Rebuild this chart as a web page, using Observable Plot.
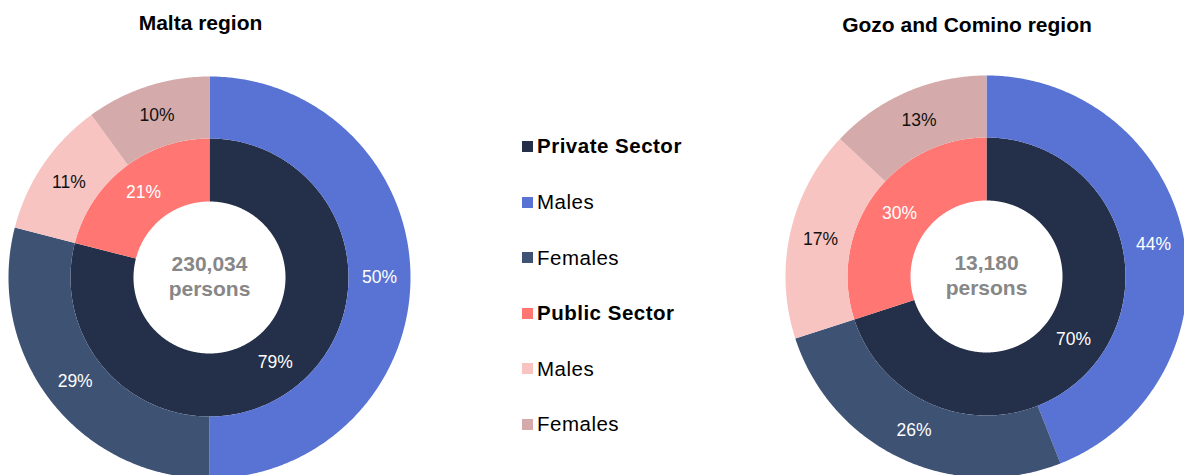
<!DOCTYPE html>
<html>
<head>
<meta charset="utf-8">
<script src="https://cdn.jsdelivr.net/npm/d3@7"></script>
<script src="https://cdn.jsdelivr.net/npm/@observablehq/plot@0.6"></script>
<style>
  html, body { margin: 0; padding: 0; background: #fff; }
  #wrap { position: relative; width: 1184px; height: 475px; overflow: hidden; font-family: "Liberation Sans", Arial, sans-serif; }
  .title { position: absolute; font-weight: bold; font-size: 21px; line-height: 21px; color: #000; white-space: nowrap; transform: translateX(-50%); }
  .leg { position: absolute; left: 522px; font-size: 20.5px; line-height: 20px; letter-spacing: 0.5px; color: #000; white-space: nowrap; }
  .leg .sw { position: absolute; left: 0; width: 11px; height: 11px; }
  .leg .lb { position: absolute; left: 15px; }
  .plotbox { position: absolute; top: 50px; }
</style>
</head>
<body>
<div id="wrap"></div>
<script>
// ---- data ----
const regions = ["Malta region", "Gozo and Comino region"];
const totals = [230034, 13180];
const sectors = ["Private Sector", "Public Sector"];
const groups = ["Males", "Females", "Males", "Females"];
const maltaInner = [79, 21];
const maltaOuter = [50, 29, 11, 10];
const gozoInner = [70, 30];
const gozoOuter = [44, 26, 17, 13];
const legendItems = ["Private Sector", "Males", "Females", "Public Sector", "Males", "Females"];

// ---- styling ----
const innerColors = ["#243049", "#ff7672"];
const outerColors = ["#5873d4", "#3e5274", "#f7c4c2", "#d4abaa"];
const innerLabelColors = ["#ffffff", "#ffffff"];
const outerLabelColors = ["#ffffff", "#ffffff", "#111111", "#111111"];
const legendColors = ["#243049", "#5873d4", "#3e5274", "#ff7672", "#f7c4c2", "#d4abaa"];
const legendBold = [true, false, false, true, false, false];
const R0 = 76, R1 = 139, R2 = 201;
const FONT = "Liberation Sans, Arial, sans-serif";

const wrap = document.getElementById("wrap");

function ring(values, colors, labelColors, r0, r1, prefix, polys, labels) {
  const sum = d3.sum(values);
  let acc = 0;
  values.forEach((v, i) => {
    const a0 = acc / sum * 2 * Math.PI;
    acc += v;
    const a1 = acc / sum * 2 * Math.PI;
    const n = Math.max(2, Math.ceil((a1 - a0) / (Math.PI / 360)));
    const id = prefix + i;
    for (let k = 0; k <= n; k++) {
      const a = a0 + (a1 - a0) * k / n;
      polys.push({id, color: colors[i], x: r1 * Math.sin(a), y: r1 * Math.cos(a)});
    }
    for (let k = n; k >= 0; k--) {
      const a = a0 + (a1 - a0) * k / n;
      polys.push({id, color: colors[i], x: r0 * Math.sin(a), y: r0 * Math.cos(a)});
    }
    const am = (a0 + a1) / 2, rm = (r0 + r1) / 2;
    labels.push({x: rm * Math.sin(am), y: rm * Math.cos(am), text: v + "%", color: labelColors[i]});
  });
}

function donut(inner, outer, total, width, cx, cy, height) {
  const polys = [], labels = [];
  ring(inner, innerColors, innerLabelColors, R0, R1, "in", polys, labels);
  ring(outer, outerColors, outerLabelColors, R1, R2, "out", polys, labels);
  return Plot.plot({
    width, height,
    margin: 0,
    x: {domain: [-cx, width - cx], axis: null},
    y: {domain: [-(height - cy), cy], axis: null},
    color: {type: "identity"},
    style: {fontFamily: FONT, background: "transparent"},
    marks: [
      Plot.line(polys, {x: "x", y: "y", z: "id", fill: "color", stroke: "none", curve: "linear"}),
      Plot.text(labels, {x: "x", y: "y", text: "text", fill: "color", fontSize: 17.5, lineAnchor: "middle"}),
      Plot.text([d3.format(",")(total) + "\npersons"], {x: 0, y: 0, text: d => d, fill: "#878787", fontSize: 21, fontWeight: "bold", lineHeight: 1.19, lineAnchor: "middle", dy: -2})
    ]
  });
}

// titles
const t1 = document.createElement("div");
t1.className = "title"; t1.textContent = regions[0];
t1.style.left = "200.5px"; t1.style.top = "11.5px";
wrap.appendChild(t1);
const t2 = document.createElement("div");
t2.className = "title"; t2.textContent = regions[1];
t2.style.left = "967px"; t2.style.top = "14px";
wrap.appendChild(t2);

// donuts
const H = 425;
const b1 = document.createElement("div");
b1.className = "plotbox"; b1.style.left = "0px";
b1.appendChild(donut(maltaInner, maltaOuter, totals[0], 418, 209, 227, H));
wrap.appendChild(b1);
const b2 = document.createElement("div");
b2.className = "plotbox"; b2.style.left = "777px";
b2.appendChild(donut(gozoInner, gozoOuter, totals[1], 407, 209, 226, H));
wrap.appendChild(b2);

// legend
legendItems.forEach((name, i) => {
  const baseline = 153.3 + i * 55.6;
  const row = document.createElement("div");
  row.className = "leg";
  row.style.top = (baseline - 17) + "px";
  const sw = document.createElement("div");
  sw.className = "sw";
  sw.style.background = legendColors[i];
  sw.style.top = "4.7px";
  const lb = document.createElement("div");
  lb.className = "lb";
  lb.textContent = name;
  if (legendBold[i]) lb.style.fontWeight = "bold";
  row.appendChild(sw); row.appendChild(lb);
  wrap.appendChild(row);
});
</script>
</body>
</html>
